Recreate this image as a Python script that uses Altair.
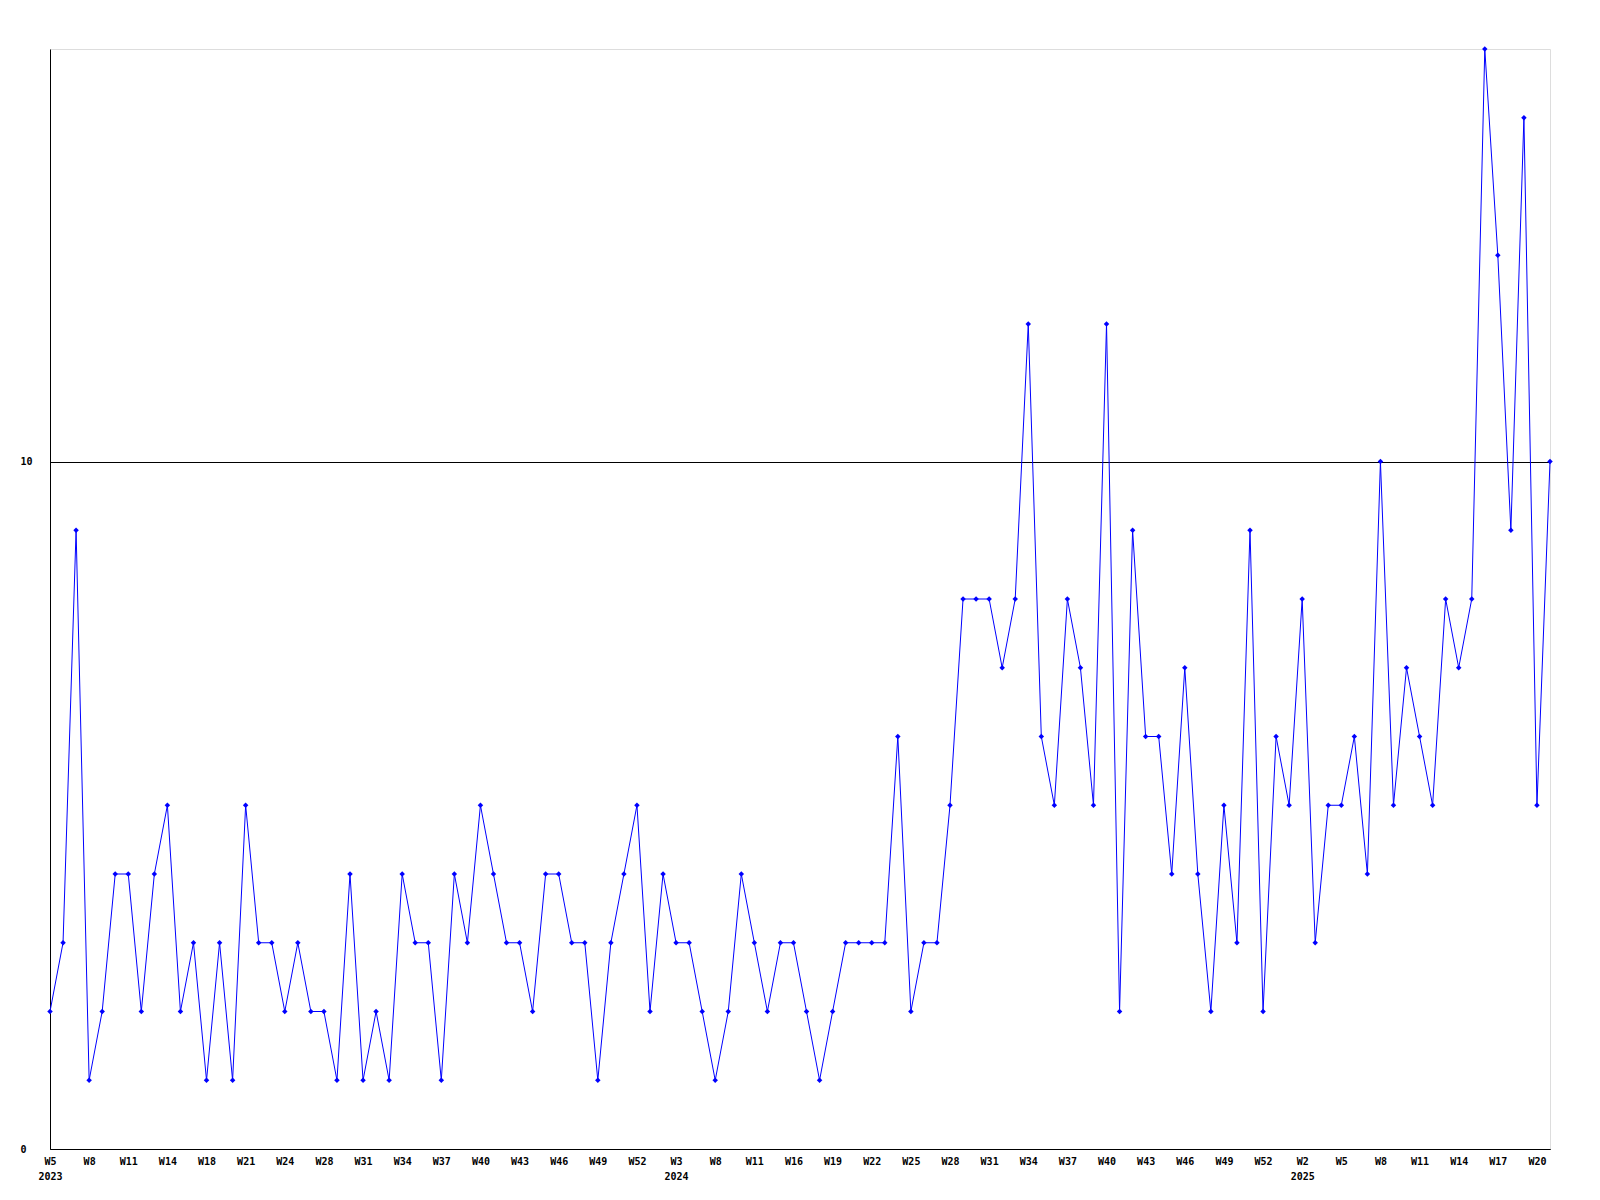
import altair as alt
import pandas as pd

# Weekly counts (index 0 = W5 2023)
VALUES = [
    2, 3, 9, 1, 2, 4, 4, 2, 4, 5, 2, 3, 1, 3, 1, 5, 3, 3, 2,
    3, 2, 2, 1, 4, 1, 2, 1, 4, 3, 3, 1, 4, 3, 5, 4, 3, 3, 2,
    4, 4, 3, 3, 1, 3, 4, 5, 2, 4, 3, 3, 2, 1, 2, 4, 3, 2, 3,
    3, 2, 1, 2, 3, 3, 3, 3, 6, 2, 3, 3, 5, 8, 8, 8, 7, 8, 12,
    6, 5, 8, 7, 5, 12, 2, 9, 6, 6, 4, 7, 4, 2, 5, 3, 9, 2, 6, 5,
    8, 3, 5, 5, 6, 4, 10, 5, 7, 6, 5, 8, 7, 8, 16, 13, 9, 15, 5, 10,
]

# Tick labels, one every third point
TICK_LABELS = [
    "W5", "W8", "W11", "W14", "W18", "W21", "W24", "W28", "W31", "W34",
    "W37", "W40", "W43", "W46", "W49", "W52",
    "W3", "W8", "W11", "W16", "W19", "W22", "W25", "W28", "W31", "W34",
    "W37", "W40", "W43", "W46", "W49", "W52",
    "W2", "W5", "W8", "W11", "W14", "W17", "W20",
]
YEAR_LABELS = {0: "2023", 16: "2024", 32: "2025"}
TICK_STEP = 3

df = pd.DataFrame({"idx": list(range(len(VALUES))), "value": VALUES})

entries = []
for i, lab in enumerate(TICK_LABELS):
    if i in YEAR_LABELS:
        entries.append("['%s','%s']" % (lab, YEAR_LABELS[i]))
    else:
        entries.append("'%s'" % lab)
label_expr = "[" + ",".join(entries) + "][round(datum.value/%d)]" % TICK_STEP
tick_values = [i * TICK_STEP for i in range(len(TICK_LABELS))]

FONT = "DejaVu Sans Mono"

chart = (
    alt.Chart(df)
    .mark_line(
        color="#0000ff",
        strokeWidth=1,
        point=alt.OverlayMarkDef(shape="diamond", size=30, filled=True, color="#0000ff"),
    )
    .encode(
        x=alt.X(
            "idx:Q",
            scale=alt.Scale(domain=[0, len(VALUES) - 1], nice=False, zero=False),
            axis=alt.Axis(
                values=tick_values,
                labelExpr=label_expr,
                title=None,
                grid=False,
                ticks=False,
                domainColor="black",
                labelColor="black",
                labelFont=FONT,
                labelFontWeight="bold",
                labelFontSize=10,
                labelPadding=7,
                labelLineHeight=15,
                labelBaseline="top",
                labelAlign="center",
                labelOverlap=False,
                labelFlush=False,
            ),
        ),
        y=alt.Y(
            "value:Q",
            scale=alt.Scale(domain=[0, 16], nice=False),
            axis=alt.Axis(
                values=[0, 10],
                title=None,
                grid=True,
                gridColor="black",
                gridOpacity=1,
                gridWidth=1,
                ticks=False,
                domainColor="black",
                labelColor="black",
                labelFont=FONT,
                labelFontWeight="bold",
                labelFontSize=10,
                labelAlign="left",
                labelBaseline="middle",
                labelPadding=30,
            ),
        ),
    )
    .properties(
        width=1500,
        height=1100,
        autosize=alt.AutoSizeParams(type="none"),
        padding={"left": 42, "top": 41, "right": 20, "bottom": 40},
    )
    .configure_view(stroke=None)
    .configure(background="white")
)

chart.save("out.html", embed_options={"renderer": "svg", "actions": False})
